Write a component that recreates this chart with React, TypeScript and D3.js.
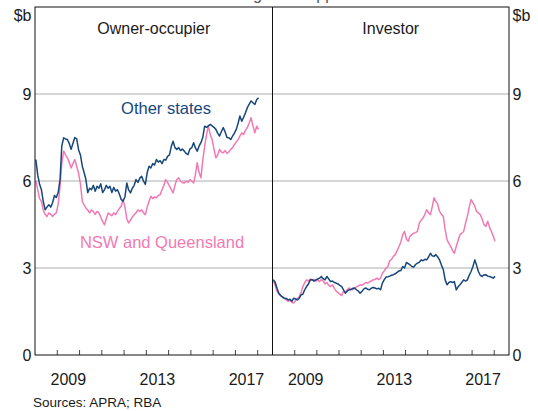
import React from "react";
import * as d3 from "d3";

// Monthly data, Jan 2008 - Jan 2018, $b
const ownerOther = [
  6.74, 6.2, 5.9, 5.7, 5.3, 5.01, 5.1, 5.18, 5.1, 5.25, 5.5, 5.43,
  5.6, 6.05, 7.2, 7.49, 7.45, 7.43, 7.3, 7.09, 7.3, 7.5, 7.45, 7.09,
  6.9, 6.51, 6.3, 6.05, 5.6, 5.75, 5.7, 5.85, 5.65, 5.82, 5.75, 5.9,
  5.6, 5.7, 5.85, 5.75, 5.82, 5.6, 5.78, 5.65, 5.7, 5.55, 5.36, 5.3,
  5.45, 5.93, 5.7, 5.59, 5.75, 5.85, 6.05, 5.95, 6.1, 6.16, 6.0, 5.88,
  6.3, 6.51, 6.45, 6.6, 6.55, 6.74, 6.65, 6.7, 6.6, 6.74, 6.72, 6.85,
  6.9, 7.2, 7.37, 7.15, 7.09, 7.15, 7.05, 7.1, 7.03, 6.95, 6.91, 7.1,
  7.15, 7.32, 7.15, 7.03, 7.2, 7.32, 7.5, 7.89, 7.85, 7.9, 7.95, 7.9,
  7.85, 7.78, 7.65, 7.55, 7.7, 7.84, 7.7, 7.5, 7.49, 7.43, 7.55, 7.65,
  7.78, 8.0, 8.24, 8.06, 8.2, 8.35, 8.53, 8.65, 8.76, 8.7, 8.64, 8.8,
  8.87,
];
const ownerNswQld = [
  6.0, 5.7, 5.4, 5.3, 5.0, 4.85, 4.78, 4.9, 4.85, 4.78, 4.85, 4.9,
  5.2, 5.82, 6.6, 7.03, 6.9, 6.8, 6.65, 6.45, 6.6, 6.74, 6.5, 6.28,
  5.9, 5.3, 5.18, 5.07, 5.0, 4.9, 5.0, 4.95, 4.85, 4.95, 4.9, 4.75,
  4.6, 4.49, 4.7, 4.9, 4.85, 4.8, 4.9, 4.84, 4.95, 5.05, 5.13, 5.36,
  5.1, 4.7, 4.55, 4.65, 4.75, 4.84, 4.9, 5.0, 4.95, 5.01, 4.9, 4.84,
  5.1, 5.3, 5.47, 5.4, 5.45, 5.42, 5.5, 5.53, 5.7, 5.85, 6.05, 5.95,
  5.82, 5.7, 5.59, 5.85, 6.05, 6.11, 6.0, 5.95, 5.93, 6.0, 5.95, 6.05,
  5.99, 5.93, 6.2, 6.63, 6.3, 6.11, 6.7, 7.2, 7.6, 7.89, 7.6, 7.43,
  7.1, 6.8, 6.9, 7.09, 7.0, 6.97, 7.05, 6.95, 7.0, 7.09, 7.15, 7.25,
  7.35, 7.43, 7.55, 7.66, 7.6, 7.75, 7.84, 8.0, 8.18, 7.9, 7.66, 7.89,
  7.78,
];
const investorOther = [
  2.6, 2.5, 2.3, 2.13, 2.05, 2.0, 1.96, 1.95, 1.9, 1.92, 1.85, 1.96,
  1.93, 1.9, 1.95, 2.07, 2.1, 2.25, 2.36, 2.45, 2.59, 2.6, 2.55, 2.59,
  2.62, 2.65, 2.71, 2.63, 2.59, 2.71, 2.62, 2.53, 2.55, 2.5, 2.48, 2.45,
  2.4, 2.36, 2.25, 2.13, 2.2, 2.25, 2.25, 2.3, 2.31, 2.25, 2.2, 2.13,
  2.2, 2.28, 2.31, 2.27, 2.25, 2.3, 2.33, 2.31, 2.28, 2.3, 2.25, 2.48,
  2.6, 2.69, 2.7, 2.72, 2.75, 2.77, 2.8, 2.85, 2.9, 2.91, 3.05, 3.0,
  3.19, 3.15, 3.11, 3.05, 3.03, 3.12, 3.17, 3.2, 3.28, 3.25, 3.3, 3.28,
  3.38, 3.51, 3.42, 3.4, 3.46, 3.38, 3.28, 3.1, 2.94, 2.59, 2.42, 2.5,
  2.53, 2.5, 2.53, 2.25, 2.35, 2.42, 2.5, 2.59, 2.55, 2.59, 2.75, 2.88,
  3.05, 3.28, 3.1, 2.88, 2.75, 2.71, 2.76, 2.77, 2.72, 2.71, 2.68, 2.65,
  2.71,
];
const investorNswQld = [
  2.55, 2.4, 2.2, 2.1, 2.05, 1.98, 1.95, 1.9, 1.85, 1.9, 1.82, 1.79,
  1.88, 1.95, 2.0, 2.15, 2.35, 2.5, 2.59, 2.55, 2.62, 2.58, 2.6, 2.55,
  2.58, 2.53, 2.6, 2.55, 2.45, 2.5, 2.4, 2.36, 2.42, 2.3, 2.2, 2.15,
  2.1, 2.05, 2.2, 2.15, 2.25, 2.31, 2.28, 2.25, 2.3, 2.35, 2.38, 2.42,
  2.4, 2.45, 2.5, 2.48, 2.52, 2.55, 2.59, 2.6, 2.65, 2.6, 2.65, 2.82,
  2.9, 3.0, 3.05, 3.25, 3.3, 3.4, 3.46, 3.6, 3.74, 3.9, 4.15, 4.26,
  4.0, 3.92, 4.1, 4.15, 4.2, 4.22, 4.26, 4.55, 4.65, 4.72, 4.85, 5.01,
  4.9, 4.84, 5.1, 5.42, 5.3, 5.2, 4.95, 4.85, 4.78, 4.32, 3.98, 3.85,
  3.74, 3.6, 3.51, 3.74, 3.95, 4.15, 4.2, 4.26, 4.55, 4.78, 5.1, 5.36,
  5.25, 5.13, 4.95, 4.9, 4.84, 4.7, 4.5, 4.43, 4.61, 4.4, 4.26, 4.1,
  3.92,
];

const yTicks = [0, 3, 6, 9];
const yearTicks = [2009, 2010, 2011, 2012, 2013, 2014, 2015, 2016, 2017, 2018];
const yearLabels = [2009, 2013, 2017];
const panelTitles = ["Owner-occupier", "Investor"];
const seriesLabels = ["Other states", "NSW and Queensland"];
const unitLabel = "$b";
const sourceText = "Sources: APRA; RBA";
const titleText = "Housing Loan Approvals";

const W = 538;
const H = 411;
const M = { left: 35, right: 509, top: 7, bottom: 355 };
const MID = 272.5;
const FONT = "Arial, 'Liberation Sans', Helvetica, sans-serif";
const BLUE = "#17477a";
const PINK = "#f27ab3";
const GRID = "#c8c8c8";

export default function App() {
  const y = d3.scaleLinear().domain([0, 12]).range([M.bottom, M.top]);
  const dateOf = (i: number) => new Date(2008, i, 15);
  const domain = [new Date(2008, 0, 1), new Date(2018, 8, 1)];
  const panels = [
    { x0: M.left, x1: MID, other: ownerOther, nsw: ownerNswQld, title: panelTitles[0] },
    { x0: MID, x1: M.right, other: investorOther, nsw: investorNswQld, title: panelTitles[1] },
  ];

  return (
    <div style={{ position: "absolute", left: 0, top: 0 }}>
      <svg width={W} height={H} style={{ display: "block", background: "#fff" }} fontFamily={FONT}>
        <text x={290} y={-0.5} textAnchor="middle" fontSize={16} fill="#555">
          {titleText}
        </text>
        {/* gridlines */}
        {yTicks.filter((t) => t > 0).map((t) => (
          <line key={t} x1={M.left} x2={M.right} y1={y(t)} y2={y(t)} stroke={GRID} strokeWidth={1.5} />
        ))}
        {panels.map((p, pi) => {
          const x = d3.scaleTime().domain(domain).range([p.x0, p.x1]);
          const line = d3
            .line<number>()
            .x((_, i) => x(dateOf(i)))
            .y((d) => y(d));
          return (
            <g key={pi}>
              {yearTicks.map((yr) => (
                <line
                  key={yr}
                  x1={x(new Date(yr, 0, 1))}
                  x2={x(new Date(yr, 0, 1))}
                  y1={M.bottom}
                  y2={M.bottom - 5}
                  stroke="#444"
                  strokeWidth={1}
                />
              ))}
              {yearLabels.map((yr) => (
                <text
                  key={yr}
                  x={x(new Date(yr, 6, 1))}
                  y={385}
                  textAnchor="middle"
                  fontSize={16}
                  fill="#1a1a1a"
                >
                  {yr}
                </text>
              ))}
              <path d={line(p.nsw) || ""} fill="none" stroke={PINK} strokeWidth={1.5} strokeLinejoin="round" />
              <path d={line(p.other) || ""} fill="none" stroke={BLUE} strokeWidth={1.5} strokeLinejoin="round" />
              <text x={(p.x0 + p.x1) / 2} y={34} textAnchor="middle" fontSize={16} fill="#1a1a1a">
                {p.title}
              </text>
            </g>
          );
        })}
        {/* frame */}
        <rect
          x={M.left}
          y={M.top}
          width={M.right - M.left}
          height={M.bottom - M.top}
          fill="none"
          stroke="#111"
          strokeWidth={1}
        />
        <line x1={MID} x2={MID} y1={M.top} y2={M.bottom} stroke="#111" strokeWidth={1} />
        {/* y labels */}
        {yTicks.map((t) => (
          <g key={t}>
            <text x={31.5} y={y(t) + 6} textAnchor="end" fontSize={16} fill="#1a1a1a">
              {t}
            </text>
            <text x={512.5} y={y(t) + 6} textAnchor="start" fontSize={16} fill="#1a1a1a">
              {t}
            </text>
          </g>
        ))}
        <text x={31.5} y={21} textAnchor="end" fontSize={16} fill="#1a1a1a">
          {unitLabel}
        </text>
        <text x={512.5} y={21} textAnchor="start" fontSize={16} fill="#1a1a1a">
          {unitLabel}
        </text>
        {/* series labels */}
        <text x={166} y={114} textAnchor="middle" fontSize={16.5} fill={BLUE}>
          {seriesLabels[0]}
        </text>
        <text x={162} y={248} textAnchor="middle" fontSize={16.5} fill={PINK}>
          {seriesLabels[1]}
        </text>
        <text x={33} y={407} fontSize={13.5} fill="#1a1a1a">
          {sourceText}
        </text>
      </svg>
    </div>
  );
}
